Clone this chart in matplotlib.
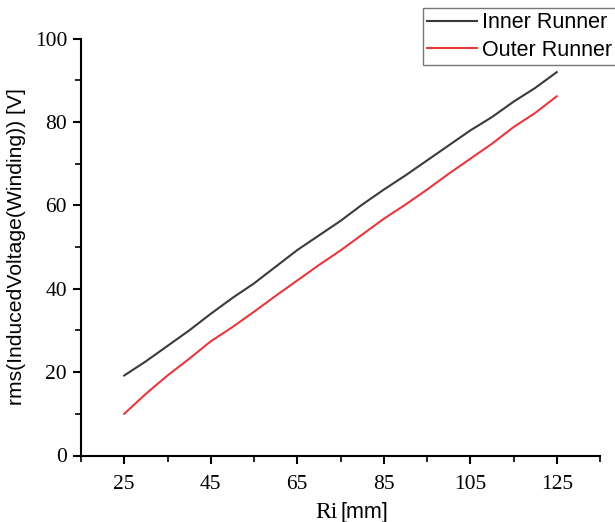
import numpy as np
import matplotlib.pyplot as plt
from matplotlib.ticker import FixedLocator

# Ri [mm]
ri = [25, 30, 35, 40, 45, 50, 55, 60, 65, 70, 75,
      80, 85, 90, 95, 100, 105, 110, 115, 120, 125]

# rms induced voltage [V]
inner = [19.2, 22.6, 26.3, 30.0, 34.0, 37.8, 41.3, 45.3, 49.3, 52.8, 56.3,
         60.2, 63.8, 67.2, 70.8, 74.4, 78.0, 81.2, 84.9, 88.2, 92.0]
outer = [10.0, 14.8, 19.2, 23.2, 27.4, 30.8, 34.5, 38.3, 42.0, 45.7, 49.2,
         53.0, 56.8, 60.2, 63.8, 67.6, 71.2, 74.8, 78.8, 82.2, 86.2]

x_major = [25, 45, 65, 85, 105, 125]
x_minor = [15, 35, 55, 75, 95, 115, 135]

fig = plt.figure(figsize=(6.15, 5.22), dpi=100)
ax = fig.add_axes([81 / 615, 1 - 455.5 / 522, (600 - 81) / 615, (455.5 - 38.8) / 522])

l1, = ax.plot(ri, inner, color='#3a3a3a', lw=1.5, label='Inner Runner')
l2, = ax.plot(ri, outer, color='#e8383d', lw=1.5, label='Outer Runner')

ax.set_xlim(15, 135)
ax.set_ylim(0, 100)
ax.xaxis.set_major_locator(FixedLocator(x_major))
ax.xaxis.set_minor_locator(FixedLocator(x_minor))
ax.yaxis.set_major_locator(FixedLocator([0, 20, 40, 60, 80, 100]))
ax.yaxis.set_minor_locator(FixedLocator([10, 30, 50, 70, 90]))

for s in ['top', 'right']:
    ax.spines[s].set_visible(False)
for s in ['left', 'bottom']:
    ax.spines[s].set_linewidth(1.5)

ax.tick_params(which='major', direction='out', length=6, width=1.5, pad=4)
ax.tick_params(which='minor', direction='out', length=4, width=1.2)
for lab in ax.get_xticklabels() + ax.get_yticklabels():
    lab.set_fontfamily('Liberation Serif')
    lab.set_fontsize(15.5)
ax.tick_params(axis='x', pad=8)

# y label
fig.text(16.5 / 615, 1 - 246.5 / 522, 'rms(InducedVoltage(Winding)) [V]',
         fontfamily='Liberation Sans', fontsize=15.2, rotation=90,
         ha='center', va='center')

# x label: "Ri" in serif, "[mm]" in sans
fig.text(315 / 615, 1 - 518 / 522, 'Ri', fontfamily='Liberation Serif',
         fontsize=17, va='baseline', ha='left')
fig.text(340 / 615, 1 - 518 / 522, '[mm]', fontfamily='Liberation Sans',
         fontsize=15.5, va='baseline', ha='left')

leg = fig.legend(handles=[l1, l2], loc='upper left',
                 bbox_to_anchor=(423 / 615, 1 - 8 / 522),
                 prop={'family': 'Liberation Sans', 'size': 15.5},
                 frameon=True, fancybox=False, borderpad=0.2,
                 handlelength=2.3, handletextpad=0.25, labelspacing=0.3,
                 borderaxespad=0)
leg.get_frame().set_edgecolor('#555555')
leg.get_frame().set_linewidth(1.0)

fig.savefig('out.png', dpi=100)
